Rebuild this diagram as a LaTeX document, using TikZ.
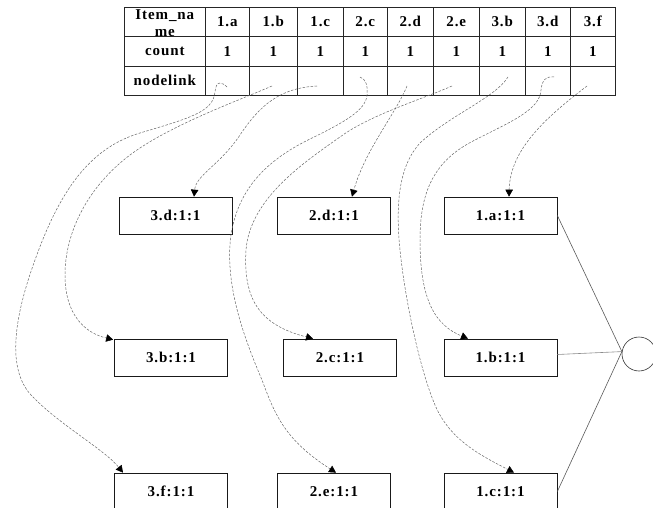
\documentclass[tikz,border=0pt]{standalone}
\usepackage{fontspec}
\setmainfont{Liberation Serif}[LetterSpace=6]
\usetikzlibrary{arrows.meta}

\begin{document}
\begin{tikzpicture}[x=1pt,y=-1pt,
  txt/.style={font=\fontsize{15}{17.5}\selectfont\bfseries},
  cell/.style={draw=black!85, line width=0.6pt, inner sep=0pt, anchor=north west},
  item/.style={draw=black!90, line width=0.7pt, minimum width=113pt, minimum height=37pt, inner sep=0pt, txt},
  link/.style={draw=black!60, line width=0.5pt, dash pattern=on 2.5pt off 1.5pt,
               -{Triangle[length=7pt,width=7.5pt,color=black]}},
  tie/.style={draw=black!65, line width=0.6pt}
]
\useasboundingbox (0,0) rectangle (653,508);
\clip (0,0) rectangle (653,508);

% header table: name column
\node[cell, minimum width=81pt, minimum height=29pt] (hname) at (124,7) {};
\node[txt, font=\fontsize{15}{16.5}\selectfont\bfseries, align=center, inner sep=0pt]
  (hlab) at ([yshift=-1.5pt]hname.center) {Item\_na\\me};
\node[cell, minimum width=81pt, minimum height=30pt, txt] (cname) at (124,36) {count};
\node[cell, minimum width=81pt, minimum height=29pt, txt] (nname) at (124,66) {nodelink};

% header table: one column per item
\foreach \k/\lab/\xa/\w in {1a/1.a/205/44, 1b/1.b/249/48, 1c/1.c/297/46, 2c/2.c/343/44,
                            2d/2.d/387/46, 2e/2.e/433/46, 3b/3.b/479/46, 3d/3.d/525/45, 3f/3.f/570/45}{
  \node[cell, minimum width=\w pt, minimum height=29pt, txt] (h\k) at (\xa,7) {\lab};
  \node[cell, minimum width=\w pt, minimum height=30pt, txt] (c\k) at (\xa,36) {1};
  \node[cell, minimum width=\w pt, minimum height=29pt] (n\k) at (\xa,66) {};
}

% tree nodes
\node[item] (b3d) at (175.5,215.5) {3.d:1:1};
\node[item] (b2d) at (334,215.5)   {2.d:1:1};
\node[item] (b1a) at (500.5,215.5) {1.a:1:1};
\node[item] (b3b) at (171,357.5)   {3.b:1:1};
\node[item] (b2c) at (340,357.5)   {2.c:1:1};
\node[item] (b1b) at (500.5,357.5) {1.b:1:1};
\node[item] (b3f) at (171,491.5)   {3.f:1:1};
\node[item] (b2e) at (334,491.5)   {2.e:1:1};
\node[item] (b1c) at (500.5,491.5) {1.c:1:1};

\node[draw=black!80, circle, minimum size=34pt, inner sep=0pt, line width=0.6pt] (ring) at (639,354) {};

% start points of the node links
\coordinate (s1a) at (227,87);
\coordinate (s1b) at (272,86);
\coordinate (s1c) at (317,86);
\coordinate (s2c) at (360,77);
\coordinate (s2d) at (407,86);
\coordinate (s2e) at (452,86);
\coordinate (s3b) at (508,77);
\coordinate (s3d) at (554,77);
\coordinate (s3f) at (587,86);

% node links
\draw[link] (s1a) .. controls (222,82) and (216,80) .. (215,92)
  .. controls (213,112) and (190,118) .. (140,133)
  .. controls (90,148) and (60,190) .. (35,260)
  .. controls (15,315) and (5,370) .. (33,397)
  .. controls (60,425) and (105,450) .. ([xshift=-48pt]b3f.north);
\draw[link] (s1b) .. controls (240,100) and (170,125) .. (130,155)
  .. controls (90,185) and (65,230) .. (65,275)
  .. controls (65,315) and (85,333) .. ([xshift=-1pt,yshift=-1pt]b3b.north west);
\draw[link] (s1c) .. controls (280,88) and (260,105) .. (240,135)
  .. controls (220,165) and (196,175) .. ([xshift=18.5pt]b3d.north);
\draw[link] (s2c) .. controls (366,79) and (368,86) .. (367,95)
  .. controls (366,110) and (345,122) .. (310,139)
  .. controls (265,161) and (238,190) .. (231,235)
  .. controls (224,285) and (245,340) .. (262,380)
  .. controls (275,415) and (285,440) .. ([xshift=2pt]b2e.north);
\draw[link] (s2d) .. controls (395,115) and (365,150) .. ([xshift=18pt]b2d.north);
\draw[link] (s2e) .. controls (420,100) and (370,115) .. (340,137)
  .. controls (300,165) and (250,200) .. (246,250)
  .. controls (243,300) and (260,325) .. ([xshift=-27pt]b2c.north);
\draw[link] (s3b) .. controls (495,98) and (450,115) .. (420,143)
  .. controls (400,165) and (395,200) .. (400,250)
  .. controls (405,300) and (420,370) .. (435,405)
  .. controls (450,440) and (480,455) .. ([xshift=13.5pt]b1c.north);
\draw[link] (s3d) .. controls (546,76) and (542,80) .. (541,90)
  .. controls (540,110) and (510,122) .. (475,140)
  .. controls (435,160) and (420,190) .. (420,240)
  .. controls (420,300) and (435,325) .. ([xshift=-32.5pt]b1b.north);
\draw[link] (s3f) .. controls (545,118) and (510,150) .. ([xshift=8.5pt]b1a.north);

% joins to the circle
\draw[tie] (b1a.east) -- (ring.172);
\draw[tie, draw=black!45] ([yshift=3pt]b1b.east) -- (ring.172);
\draw[tie] (b1c.east) -- (ring.172);
\end{tikzpicture}
\end{document}
